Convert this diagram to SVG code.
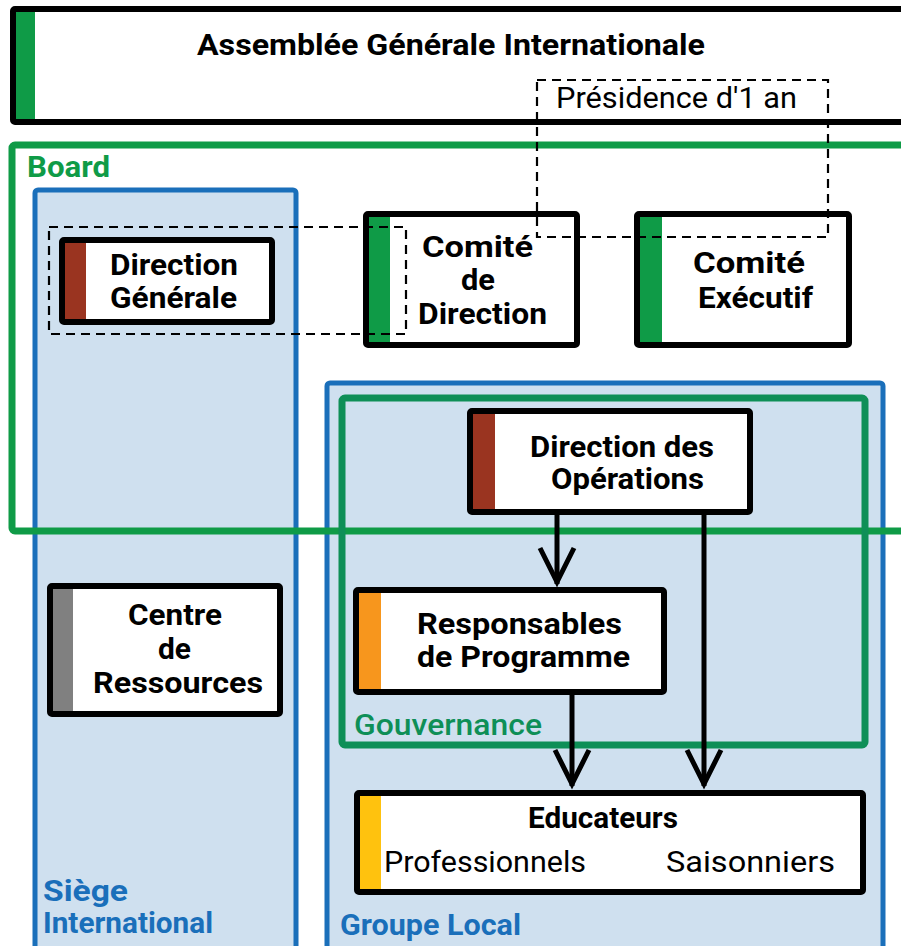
<svg xmlns="http://www.w3.org/2000/svg" width="901" height="946" viewBox="0 0 901 946">
<style>
text{font-family:Roboto,"Liberation Sans",sans-serif;font-size:30px;}
.b{font-weight:bold;fill:#000;}
.r{font-weight:normal;fill:#000;}
.box{fill:#fff;stroke:#000;stroke-width:6;}
.grp{fill:#cfe0ef;stroke:#1a6fba;stroke-width:5;}
.gl{fill:#1a6fba;font-weight:bold;}
.dash{fill:none;stroke:#000;stroke-width:2.2;stroke-dasharray:9,6;}
.con{stroke:#000;stroke-width:5;fill:none;}
</style>
<defs>
<marker id="v" markerUnits="userSpaceOnUse" markerWidth="60" markerHeight="60" refX="0" refY="0" orient="auto" overflow="visible">
<path d="M-36,-17 L-2,0 L-36,17" fill="none" stroke="#000" stroke-width="5" stroke-linejoin="miter"/>
</marker>
</defs>
<rect width="901" height="946" fill="#fff"/>

<g id="assemblee">
<rect x="13" y="9" width="900" height="113" rx="2" class="box"/>
<rect x="16" y="12" width="19" height="107" fill="#0f9b47"/>
<text x="197" y="55" class="b" font-size="31" textLength="508" lengthAdjust="spacingAndGlyphs">Assemblée Générale Internationale</text>
</g>

<g id="siege">
<rect x="35" y="190" width="261" height="780" rx="3" class="grp"/>
<text x="43" y="901" class="gl" font-size="27" textLength="85" lengthAdjust="spacingAndGlyphs">Siège</text>
<text x="43" y="933" class="gl" font-size="27" textLength="170" lengthAdjust="spacingAndGlyphs">International</text>
</g>

<g id="groupe-local">
<rect x="327" y="383" width="556" height="590" rx="3" class="grp"/>
<text x="340" y="935" class="gl" textLength="181" lengthAdjust="spacingAndGlyphs">Groupe Local</text>
</g>

<g id="board">
<rect x="12" y="145" width="900" height="386" rx="3" fill="none" stroke="#0f9b47" stroke-width="7"/>
<text x="27" y="177" font-weight="bold" fill="#0f9b47" textLength="83" lengthAdjust="spacingAndGlyphs">Board</text>
</g>

<g id="gouvernance">
<rect x="342" y="398" width="523" height="347" rx="3" fill="none" stroke="#0e8f57" stroke-width="7"/>
<text x="354" y="735" font-weight="500" fill="#0e8f57" textLength="188" lengthAdjust="spacingAndGlyphs">Gouvernance</text>
</g>

<g id="direction-generale">
<rect x="62" y="240" width="210" height="82" rx="2" class="box"/>
<rect x="65" y="243" width="21" height="76" fill="#9a3420"/>
<text x="110" y="275" class="b" textLength="128" lengthAdjust="spacingAndGlyphs">Direction</text>
<text x="110" y="308" class="b" textLength="127" lengthAdjust="spacingAndGlyphs">Générale</text>
</g>

<g id="comite-direction">
<rect x="366" y="214" width="211" height="131" rx="2" class="box"/>
<rect x="369" y="217" width="21" height="125" fill="#0f9b47"/>
<text x="422" y="257" class="b" textLength="111" lengthAdjust="spacingAndGlyphs">Comité</text>
<text x="461" y="290" class="b" textLength="34" lengthAdjust="spacingAndGlyphs">de</text>
<text x="418" y="324" class="b" textLength="129" lengthAdjust="spacingAndGlyphs">Direction</text>
</g>

<g id="comite-executif">
<rect x="637" y="214" width="212" height="131" rx="2" class="box"/>
<rect x="640" y="217" width="22" height="125" fill="#0f9b47"/>
<text x="693" y="273" class="b" textLength="112" lengthAdjust="spacingAndGlyphs">Comité</text>
<text x="698" y="308" class="b" textLength="115" lengthAdjust="spacingAndGlyphs">Exécutif</text>
</g>

<g id="direction-operations">
<rect x="470" y="411" width="280" height="101" rx="2" class="box"/>
<rect x="473" y="414" width="22" height="95" fill="#9a3420"/>
<text x="530" y="457" class="b" textLength="184" lengthAdjust="spacingAndGlyphs">Direction des</text>
<text x="551" y="489" class="b" textLength="153" lengthAdjust="spacingAndGlyphs">Opérations</text>
</g>

<g id="responsables">
<rect x="356" y="590" width="308" height="102" rx="2" class="box"/>
<rect x="359" y="593" width="22" height="96" fill="#f7961d"/>
<text x="417" y="634" class="b" textLength="205" lengthAdjust="spacingAndGlyphs">Responsables</text>
<text x="417" y="667" class="b" textLength="213" lengthAdjust="spacingAndGlyphs">de Programme</text>
</g>

<g id="educateurs">
<rect x="357" y="793" width="506" height="99" rx="2" class="box"/>
<rect x="360" y="796" width="21" height="93" fill="#ffc20e"/>
<text x="528" y="828" class="b" textLength="150" lengthAdjust="spacingAndGlyphs">Educateurs</text>
<text x="384" y="872" class="r" textLength="202" lengthAdjust="spacingAndGlyphs">Professionnels</text>
<text x="666" y="872" class="r" textLength="169" lengthAdjust="spacingAndGlyphs">Saisonniers</text>
</g>

<g id="centre-ressources">
<rect x="50" y="586" width="230" height="128" rx="2" class="box"/>
<rect x="53" y="589" width="20" height="122" fill="#808080"/>
<text x="128" y="625" class="b" textLength="94" lengthAdjust="spacingAndGlyphs">Centre</text>
<text x="158" y="659" class="b" textLength="33" lengthAdjust="spacingAndGlyphs">de</text>
<text x="93" y="693" class="b" textLength="170" lengthAdjust="spacingAndGlyphs">Ressources</text>
</g>

<g id="connectors">
<line x1="557" y1="515" x2="557" y2="584" class="con" marker-end="url(#v)"/>
<line x1="704" y1="515" x2="704" y2="786" class="con" marker-end="url(#v)"/>
<line x1="572" y1="695" x2="572" y2="786" class="con" marker-end="url(#v)"/>
</g>

<g id="dashed-groups">
<rect x="49" y="227" width="357" height="107" class="dash"/>
<rect x="537" y="80" width="291" height="157" class="dash"/>
<text x="556" y="108" class="r" font-size="31" textLength="241" lengthAdjust="spacingAndGlyphs">Présidence d'1 an</text>
</g>
</svg>
